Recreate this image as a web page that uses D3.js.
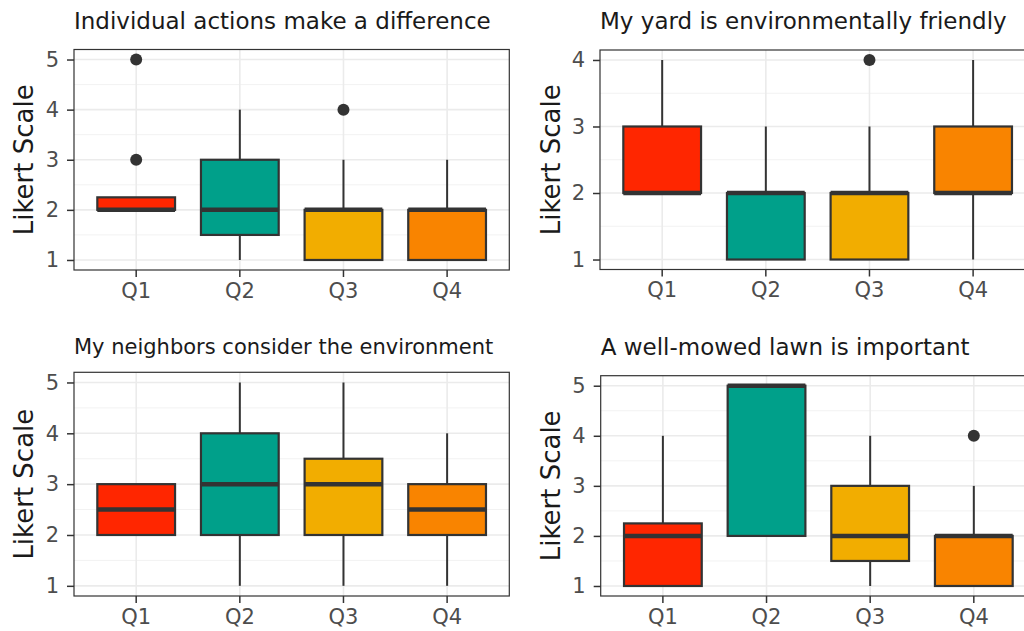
<!DOCTYPE html>
<html>
<head>
<meta charset="utf-8">
<script src="https://cdn.jsdelivr.net/npm/d3@7"></script>
<style>
  body { margin: 0; background: #fff; }
  svg { display: block; font-family: "DejaVu Sans", sans-serif; }
  .grid-major { stroke: #ebebeb; stroke-width: 1.6; }
  .grid-minor { stroke: #f2f2f2; stroke-width: 1; }
  .panelTitle { fill: #1a1a1a; }
  .axisTitle { fill: #1a1a1a; font-size: 26px; }
</style>
</head>
<body>
<svg id="graphic-svg" width="1024" height="631"></svg>
<script>
var svg = d3.select("#graphic-svg");

// Data: boxplot stats per question as [min, q1, median, q3, max]
var questions = ["Q1", "Q2", "Q3", "Q4"];
var fillColors = ["#ff2600", "#00a08a", "#f2ad00", "#f98400"];

var titles = [
  "Individual actions make a difference",
  "My yard is environmentally friendly",
  "My neighbors consider the environment",
  "A well-mowed lawn is important"
];

var actionsStats   = [[2, 2, 2, 2.25, 2], [1, 1.5, 2, 3, 4], [1, 1, 2, 2, 3], [1, 1, 2, 2, 3]];
var actionsOut     = [[3, 5], [], [4], []];
var yardStats      = [[2, 2, 2, 3, 4], [1, 1, 2, 2, 3], [1, 1, 2, 2, 3], [1, 2, 2, 3, 4]];
var yardOut        = [[], [], [4], []];
var neighborsStats = [[2, 2, 2.5, 3, 3], [1, 2, 3, 4, 5], [1, 2, 3, 3.5, 5], [1, 2, 2.5, 3, 4]];
var neighborsOut   = [[], [], [], []];
var lawnStats      = [[1, 1, 2, 2.25, 4], [2, 2, 5, 5, 5], [1, 1.5, 2, 3, 4], [1, 1, 2, 2, 3]];
var lawnOut        = [[], [], [], [4]];

var ticks5 = [1, 2, 3, 4, 5];
var ticks4 = [1, 2, 3, 4];

// Panel layout
var panels = [
  { title: titles[0], stats: actionsStats, out: actionsOut, ticks: ticks5, dom: [0.8, 5.2],
    x0: 74, y0: 49.5, y1: 270, titleY: 28.5, titleSize: 23, axX: 33 },
  { title: titles[1], stats: yardStats, out: yardOut, ticks: ticks4, dom: [0.85, 4.15],
    x0: 600, y0: 50, y1: 269.5, titleY: 28.5, titleSize: 23, axX: 560 },
  { title: titles[2], stats: neighborsStats, out: neighborsOut, ticks: ticks5, dom: [0.8, 5.2],
    x0: 74, y0: 372.3, y1: 596, titleY: 353.5, titleSize: 21, axX: 33 },
  { title: titles[3], stats: lawnStats, out: lawnOut, ticks: ticks5, dom: [0.8, 5.2],
    x0: 600.7, y0: 375.7, y1: 596, titleY: 354.5, titleSize: 23, axX: 560 }
];
var panelW = 435.3;

panels.forEach(function(p) {
  var g = svg.append("g");
  var x1 = p.x0 + panelW;

  var xScale = d3.scaleBand()
                 .domain(questions)
                 .range([p.x0, x1])
                 .paddingInner(0)
                 .paddingOuter(0.1);
  var yScale = d3.scaleLinear()
                 .domain(p.dom)
                 .range([p.y1, p.y0]);
  var bw = xScale.bandwidth();
  var cx = function(q) { return xScale(q) + bw / 2; };
  var boxW = bw * 0.75;

  // minor grid (half steps)
  var minor = d3.range(p.ticks[0] - 0.5, p.ticks[p.ticks.length - 1] + 1, 1)
                .filter(function(v) { return v > p.dom[0] && v < p.dom[1]; });
  g.selectAll(".grid-minor")
   .data(minor)
   .enter()
   .append("line")
   .attr("class", "grid-minor")
   .attr("x1", p.x0).attr("x2", x1)
   .attr("y1", function(d) { return yScale(d); })
   .attr("y2", function(d) { return yScale(d); });
  // major grid
  g.selectAll(".grid-y")
   .data(p.ticks)
   .enter()
   .append("line")
   .attr("class", "grid-major")
   .attr("x1", p.x0).attr("x2", x1)
   .attr("y1", function(d) { return yScale(d); })
   .attr("y2", function(d) { return yScale(d); });
  g.selectAll(".grid-x")
   .data(questions)
   .enter()
   .append("line")
   .attr("class", "grid-major")
   .attr("x1", cx).attr("x2", cx)
   .attr("y1", p.y0).attr("y2", p.y1);

  // boxes
  var box = g.selectAll(".box")
             .data(questions)
             .enter()
             .append("g")
             .attr("class", "box");
  box.append("line") // whisker
     .attr("x1", cx).attr("x2", cx)
     .attr("y1", function(d, i) { return yScale(p.stats[i][0]); })
     .attr("y2", function(d, i) { return yScale(p.stats[i][4]); })
     .style("stroke", "#333")
     .style("stroke-width", 2);
  box.append("rect")
     .attr("x", function(d) { return cx(d) - boxW / 2; })
     .attr("width", boxW)
     .attr("y", function(d, i) { return yScale(p.stats[i][3]); })
     .attr("height", function(d, i) { return yScale(p.stats[i][1]) - yScale(p.stats[i][3]); })
     .style("fill", function(d, i) { return fillColors[i]; })
     .style("stroke", "#333")
     .style("stroke-width", 2.2);
  box.append("line") // median
     .attr("x1", function(d) { return cx(d) - boxW / 2; })
     .attr("x2", function(d) { return cx(d) + boxW / 2; })
     .attr("y1", function(d, i) { return yScale(p.stats[i][2]); })
     .attr("y2", function(d, i) { return yScale(p.stats[i][2]); })
     .style("stroke", "#333")
     .style("stroke-width", 4.5);
  box.each(function(d, i) {
    d3.select(this).selectAll("circle")
      .data(p.out[i])
      .enter()
      .append("circle")
      .attr("cx", cx(d))
      .attr("cy", function(v) { return yScale(v); })
      .attr("r", 6)
      .style("fill", "#333");
  });

  // panel border
  g.append("rect")
   .attr("x", p.x0).attr("y", p.y0)
   .attr("width", panelW).attr("height", p.y1 - p.y0)
   .style("fill", "none")
   .style("stroke", "#333")
   .style("stroke-width", 1.2);

  // axes
  var yAxis = d3.axisLeft(yScale).tickValues(p.ticks).tickFormat(d3.format("d")).tickSize(7).tickPadding(8);
  var xAxis = d3.axisBottom(xScale).tickSize(7).tickPadding(6);
  var ya = g.append("g").attr("transform", "translate(" + p.x0 + ",0)").call(yAxis);
  var xa = g.append("g").attr("transform", "translate(0," + p.y1 + ")").call(xAxis);
  [ya, xa].forEach(function(a) {
    a.select(".domain").remove();
    a.selectAll(".tick line").style("stroke", "#333").style("stroke-width", 1.5);
    a.selectAll(".tick text")
     .style("font-family", "DejaVu Sans, sans-serif")
     .style("font-size", "21px")
     .style("fill", "#4d4d4d");
  });

  // titles
  g.append("text")
   .attr("class", "panelTitle")
   .attr("x", p.x0)
   .attr("y", p.titleY)
   .style("font-size", p.titleSize + "px")
   .text(p.title);
  g.append("text")
   .attr("class", "axisTitle")
   .attr("transform", "translate(" + p.axX + "," + ((p.y0 + p.y1) / 2) + ") rotate(-90)")
   .style("text-anchor", "middle")
   .text("Likert Scale");
});
</script>
</body>
</html>
